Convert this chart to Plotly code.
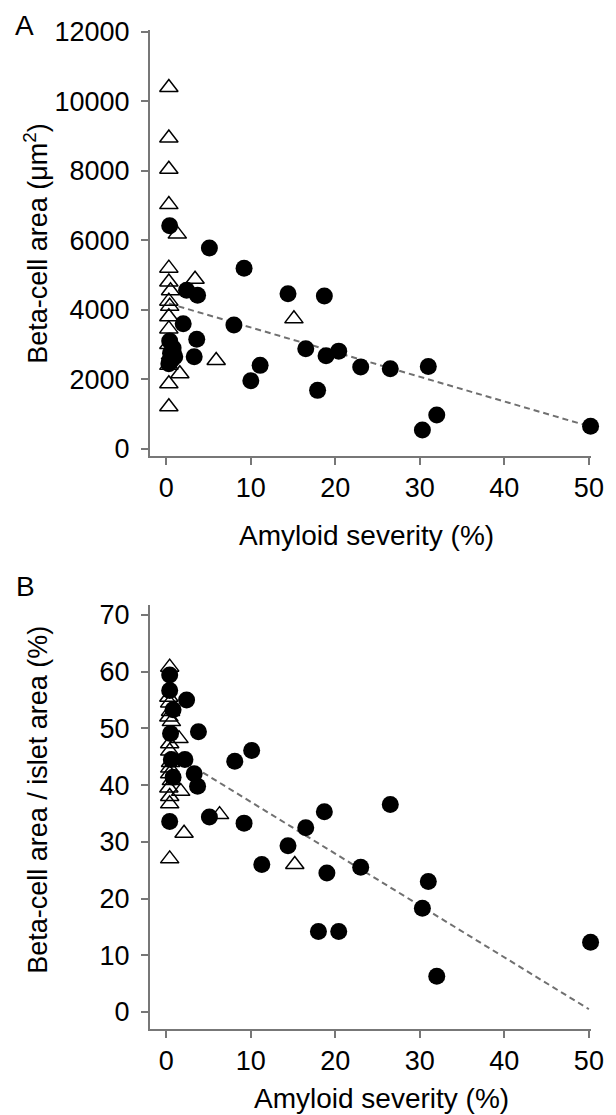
import plotly.graph_objects as go

# ---------------- Panel A data ----------------
a_circle_x = [0.4, 5.1, 9.2, 2.4, 3.7, 14.4, 18.7, 2.0, 8.0, 3.6, 3.3, 16.5, 18.9, 20.4,
              23.0, 26.5, 31.0, 11.1, 10.0, 17.9, 30.3, 32.0, 50.2,
              0.4, 0.8, 0.5, 1.0, 0.6, 0.3, 0.8]
a_circle_y = [6420, 5780, 5200, 4560, 4420, 4460, 4400, 3600, 3560, 3150, 2650, 2880, 2680, 2810,
              2350, 2300, 2370, 2400, 1960, 1680, 540, 970, 650,
              3100, 2900, 2750, 2650, 2550, 2450, 2800]
a_tri_x = [0.3, 0.3, 0.3, 0.3, 1.3, 0.3, 0.3, 0.5, 0.3, 0.4, 0.3, 0.3, 3.4, 15.1, 5.9,
           1.6, 0.3, 0.3, 0.3, 0.5, 0.3]
a_tri_y = [10400, 8950, 8050, 7030, 6180, 5200, 4800, 4550, 4250, 4100, 3800, 3450, 4880, 3740, 2540,
           2160, 1870, 1210, 3000, 2700, 2400]
a_fit_x = [0.3, 50]
a_fit_y = [4180, 650]

# ---------------- Panel B data ----------------
b_circle_x = [0.4, 0.4, 2.4, 0.8, 3.8, 0.5, 10.1, 8.1, 2.2, 0.6, 3.3, 3.7, 0.8, 5.1, 9.2, 0.4,
              18.7, 26.5, 16.5, 14.4, 11.3, 19.0, 23.0, 31.0, 30.3, 18.0, 20.4, 50.2, 32.0]
b_circle_y = [59.4, 56.7, 55.0, 53.3, 49.4, 49.1, 46.1, 44.2, 44.5, 44.5, 42.0, 39.8, 41.4, 34.4, 33.3, 33.6,
              35.3, 36.6, 32.5, 29.3, 26.0, 24.5, 25.5, 23.0, 18.3, 14.2, 14.2, 12.3, 6.3]
b_tri_x = [0.4, 0.4, 0.5, 0.3, 0.6, 1.5, 0.4, 0.4, 0.4, 0.6, 1.7, 0.4, 0.4, 6.3, 2.1, 0.4, 15.2,
           0.3, 0.5, 0.4, 0.3]
b_tri_y = [60.8, 54.5, 53.0, 52.0, 51.2, 48.2, 47.3, 46.0, 42.0, 40.8, 38.9, 38.0, 36.7, 34.8, 31.5, 27.0, 26.0,
           55.5, 44.0, 43.0, 39.5]
b_fit_x = [0.3, 50]
b_fit_y = [45.9, 0.5]

x_ticks = [0, 10, 20, 30, 40, 50]
a_y_ticks = [0, 2000, 4000, 6000, 8000, 10000, 12000]
a_y_labels = ["0", "2000", "4000", "6000", "8000", "10000", "12000"]
b_y_ticks = [0, 10, 20, 30, 40, 50, 60, 70]

FONT = "Liberation Sans, Arial, sans-serif"
AX = "#777777"

fig = go.Figure()

def add_panel(xr, yr, tx, ty, cx, cy, fx, fy):
    fig.add_trace(go.Scatter(x=fx, y=fy, mode="lines", xaxis=xr, yaxis=yr,
                             line=dict(color="#707070", width=2, dash="6px,4px"),
                             hoverinfo="skip"))
    fig.add_trace(go.Scatter(x=tx, y=ty, mode="markers", xaxis=xr, yaxis=yr, cliponaxis=False,
                             marker=dict(symbol="triangle-up-open", size=16, color="black",
                                         line=dict(width=1.5, color="black"))))
    fig.add_trace(go.Scatter(x=cx, y=cy, mode="markers", xaxis=xr, yaxis=yr, cliponaxis=False,
                             marker=dict(symbol="circle", size=17, color="black",
                                         line=dict(width=0))))

add_panel("x", "y", a_tri_x, a_tri_y, a_circle_x, a_circle_y, a_fit_x, a_fit_y)
add_panel("x2", "y2", b_tri_x, b_tri_y, b_circle_x, b_circle_y, b_fit_x, b_fit_y)

axis_common = dict(showline=True, linecolor=AX, linewidth=2, ticks="outside", ticklen=7,
                   tickcolor=AX, tickwidth=2, showgrid=False, zeroline=False,
                   tickfont=dict(family=FONT, size=27, color="black"))

W, H = 616, 1115
L, R, T, B = 150, 14, 30, 86
PW, PH = W - L - R, H - T - B

def px(x):
    return (x - L) / PW

def py(y):
    return (H - B - y) / PH

XR = [-1.93, 50.25]

fig.update_layout(
    width=W, height=H,
    margin=dict(l=L, r=R, t=T, b=B),
    plot_bgcolor="white", paper_bgcolor="white", showlegend=False,
    xaxis=dict(domain=[0, 1], anchor="y", range=XR, tickvals=x_ticks, **axis_common),
    yaxis=dict(domain=[py(456), 1], anchor="x", range=[-210, 12058], tickvals=a_y_ticks,
               ticktext=a_y_labels, ticklabelstandoff=6, **axis_common),
    xaxis2=dict(domain=[0, 1], anchor="y2", range=XR, tickvals=x_ticks, **axis_common),
    yaxis2=dict(domain=[0, py(605)], anchor="x2", range=[-3.0, 71.76], tickvals=b_y_ticks,
                ticklabelstandoff=6, **axis_common),
)

annots = [
    dict(text="A", x=px(21), y=py(25), size=28, angle=0),
    dict(text="B", x=px(22), y=py(586), size=28, angle=0),
    dict(text="Beta-cell area (μm<sup>2</sup>)", x=px(33), y=py(243), size=27, angle=-90),
    dict(text="Amyloid severity (%)", x=px(372), y=py(535), size=28, angle=0),
    dict(text="Beta-cell area / islet area (%)", x=px(35), y=py(800), size=27, angle=-90),
    dict(text="Amyloid severity (%)", x=px(387), y=py(1098), size=28, angle=0),
]
for a in annots:
    fig.add_annotation(text=a["text"], x=a["x"], y=a["y"], xref="paper", yref="paper",
                       xanchor="center", yanchor="middle", showarrow=False, textangle=a["angle"],
                       font=dict(family=FONT, size=a["size"], color="black"))

fig.write_html("out.html", config={"displayModeBar": False},
               post_script="document.body.style.margin='0';document.body.style.padding='0';"
                           "document.body.style.overflow='hidden';")
